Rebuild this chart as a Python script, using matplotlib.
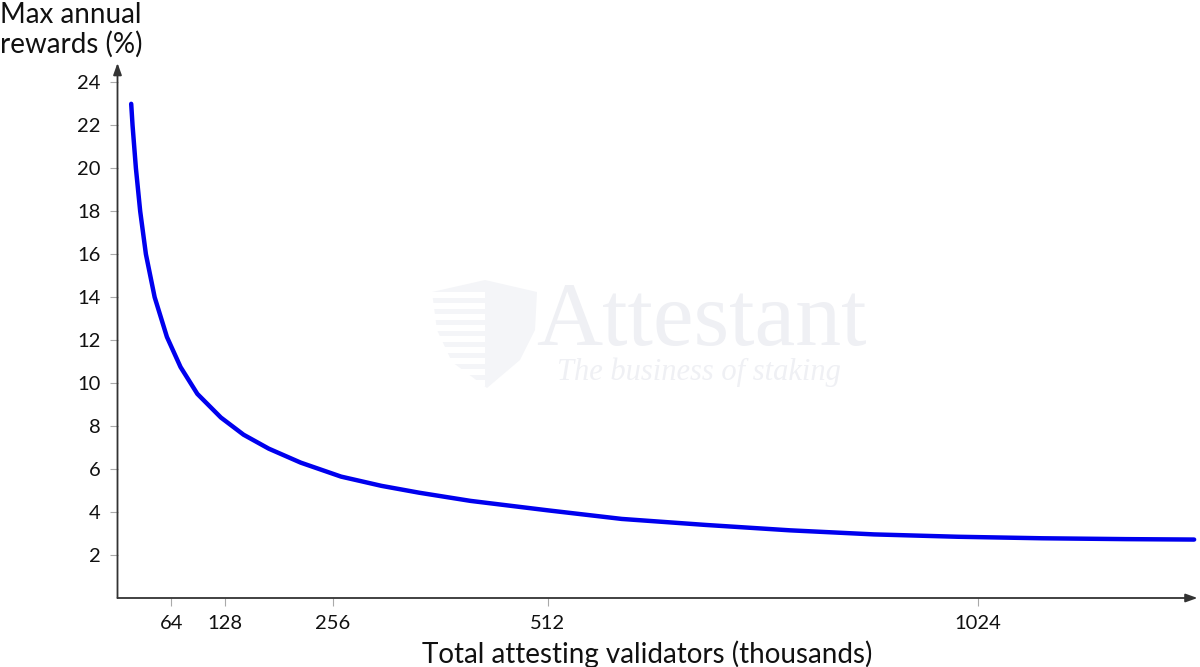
import matplotlib
matplotlib.use("Agg")
import matplotlib.pyplot as plt
from matplotlib.patches import Polygon, Rectangle

plt.rcParams["font.family"] = ["Lato", "DejaVu Sans"]

# values (thousands of validators, % per year)
validators = [16.3, 17.9, 21.9, 27, 33.8, 44.2, 58.8, 75, 95, 123, 150, 180,
              218, 266, 314, 359, 420, 512, 600, 700, 800, 900, 1000, 1100,
              1200, 1281]
rewards = [23.0, 22.0, 20.0, 18.0, 16.0, 14.0, 12.15, 10.75, 9.5, 8.4, 7.6,
           6.95, 6.3, 5.65, 5.22, 4.9, 4.52, 4.08, 3.68, 3.4, 3.15, 2.96,
           2.85, 2.78, 2.74, 2.72]
xticks = [64, 128, 256, 512, 1024]
yticks = [2, 4, 6, 8, 10, 12, 14, 16, 18, 20, 22, 24]

W, H = 1200, 667
fig = plt.figure(figsize=(W / 100, H / 100), dpi=100)

def fx(px):
    return px / W

def fy(py):
    return 1 - py / H

# faint watermark
wm = "#eff0f4"
shield = [(432, 292), (485, 280), (537, 292), (535, 330), (520, 360),
          (487, 388), (452, 362), (437, 330)]
fig.patches.append(Polygon([(fx(a), fy(b)) for a, b in shield], closed=True,
                           transform=fig.transFigure, facecolor="#f4f5f8",
                           edgecolor="none", zorder=0))
for k in range(9):
    top = 292 + k * 11
    fig.patches.append(Rectangle((fx(430), fy(top + 6)), fx(55), 6 / H,
                                 transform=fig.transFigure, facecolor="white",
                                 edgecolor="none", zorder=0.5))
fig.text(fx(536), fy(345), "Attestant", family="Liberation Serif",
         fontsize=66, color=wm, ha="left", va="baseline", zorder=0)
fig.text(fx(557), fy(380), "The business of staking", family="Liberation Serif",
         style="italic", fontsize=22, color=wm, ha="left", va="baseline", zorder=0)

ax = fig.add_axes([fx(117.5), fy(598), fx(1197.5) - fx(117.5), (598 - 63) / H])
ax.patch.set_alpha(0)
ax.plot(validators, rewards, color="#0000ee", lw=3.2, solid_capstyle="round",
        solid_joinstyle="round", zorder=3)

ax.set_xlim(0, 1285)
ax.set_ylim(0, 24.9)
ax.set_xticks(xticks)
ax.set_yticks(yticks)
for s in ["top", "right", "left", "bottom"]:
    ax.spines[s].set_visible(False)
ax.tick_params(axis="both", direction="out", length=6, width=0.8,
               color="#aaaaaa", labelsize=14.5, labelcolor="#111111", pad=6)

# axes with arrow heads
arrow = dict(arrowstyle="-|>,head_length=0.7,head_width=0.25", color="#333333",
             lw=1.3, shrinkA=0, shrinkB=0)
ax.annotate("", xy=(1, 0), xytext=(0, 0), xycoords="axes fraction",
            arrowprops=arrow, annotation_clip=False)
ax.annotate("", xy=(0, 1), xytext=(0, 0), xycoords="axes fraction",
            arrowprops=arrow, annotation_clip=False)

fig.text(fx(647), fy(663), "Total attesting validators (thousands)",
         fontsize=20, ha="center", va="baseline", color="#111111")
fig.text(fx(71), fy(2), "Max annual\nrewards (%)", fontsize=20, ha="center",
         va="top", color="#111111", linespacing=1.15)

fig.savefig("out.png", dpi=100)
